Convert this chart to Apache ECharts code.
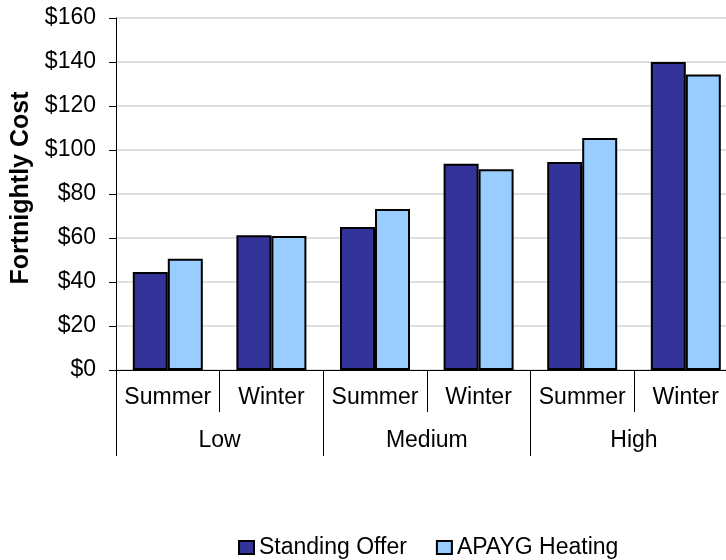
<!DOCTYPE html>
<html>
<head>
<meta charset="utf-8">
<script src="https://cdn.jsdelivr.net/npm/echarts@6/dist/echarts.min.js"></script>
<style>
html,body{margin:0;padding:0;background:#fff;}
#c{width:726px;height:560px;}
</style>
</head>
<body>
<div id="c"></div>
<script>
var seasons = ['Summer','Winter','Summer','Winter','Summer','Winter'];
var groups = ['Low','Medium','High'];
var standingOffer = [44.5, 61.2, 65.0, 93.7, 94.6, 140.0];
var apaygHeating = [50.6, 60.9, 73.2, 91.3, 105.5, 134.3];
var yTicks = [0, 20, 40, 60, 80, 100, 120, 140, 160];

var FONT = 'Liberation Sans, Arial, sans-serif';
var chart = echarts.init(document.getElementById('c'), null, {renderer:'canvas'});
chart.setOption({
  animation:false,
  backgroundColor:'#ffffff',
  textStyle:{fontFamily:FONT},
  grid:{left:116, top:18, width:621.6, height:352, containLabel:false, outerBoundsMode:'none'},
  legend:{
    left:238, top:536, padding:0, itemWidth:15, itemHeight:13, itemGap:29,
    icon:'rect',
    textStyle:{fontFamily:FONT, fontSize:23, color:'#000'},
    data:['Standing Offer','APAYG Heating']
  },
  xAxis:[{
    type:'category', data:seasons, position:'bottom',
    axisLine:{show:true, lineStyle:{color:'#000', width:1}},
    axisTick:{show:true, interval:0, length:42, lineStyle:{color:'#000'}},
    axisLabel:{interval:0, margin:16, fontFamily:FONT, fontSize:23, color:'#000'}
  },{
    type:'category', data:groups, position:'bottom',
    axisLine:{show:false},
    axisTick:{show:true, interval:0, length:86, lineStyle:{color:'#000'}},
    axisLabel:{interval:0, margin:59, fontFamily:FONT, fontSize:23, color:'#000'}
  }],
  yAxis:{
    type:'value', min:yTicks[0], max:yTicks[yTicks.length-1], interval:20,
    name:'Fortnightly Cost', nameLocation:'middle', nameGap:81, nameRotate:90,
    nameTextStyle:{fontFamily:FONT, fontSize:25, fontWeight:'bold', color:'#000', padding:[0,0,0,12]},
    axisLine:{show:true, lineStyle:{color:'#000', width:1}},
    axisTick:{show:true, length:7, lineStyle:{color:'#000'}},
    axisLabel:{margin:20, fontFamily:FONT, fontSize:23, color:'#000', formatter:'${value}'},
    splitLine:{show:true, lineStyle:{color:'#d4d4d4', width:1.5}}
  },
  series:[{
    name:'Standing Offer', type:'bar', xAxisIndex:0, data:standingOffer,
    barWidth:35, barGap:'0%',
    itemStyle:{color:'#333399', borderColor:'#000', borderWidth:2}
  },{
    name:'APAYG Heating', type:'bar', xAxisIndex:0, data:apaygHeating,
    barWidth:35, barGap:'0%',
    itemStyle:{color:'#99ccff', borderColor:'#000', borderWidth:2}
  }]
});
</script>
</body>
</html>
